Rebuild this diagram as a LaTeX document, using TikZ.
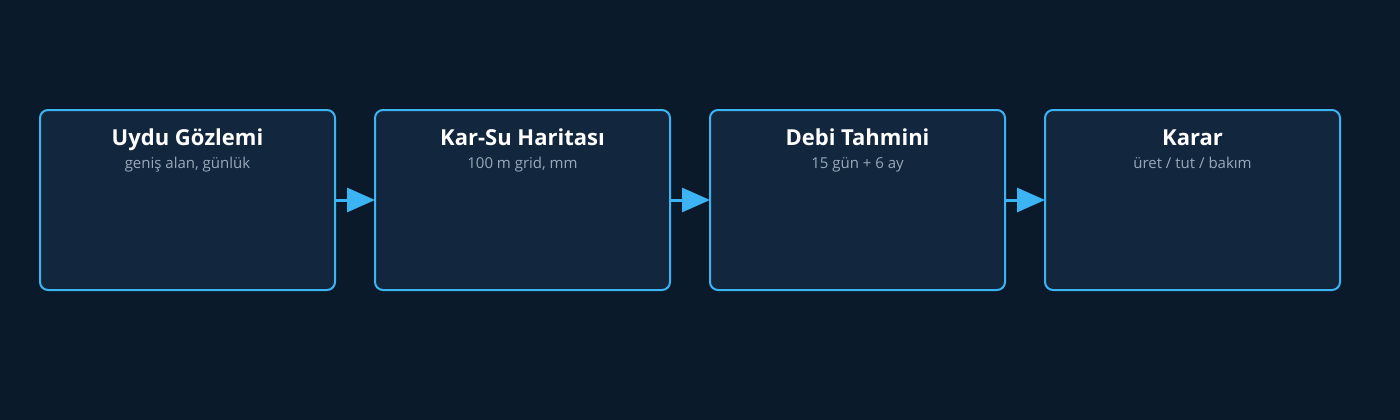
\documentclass[tikz,border=0pt]{standalone}
\usepackage{fontspec}
\setmainfont{Open Sans}
\usepackage{tikz}
\usetikzlibrary{arrows.meta,
                positioning}
\definecolor{bgdark}{HTML}{0B1A2B}
\definecolor{boxfill}{HTML}{12273D}
\definecolor{skyline}{HTML}{3CB4F4}
\definecolor{subgrey}{HTML}{9AA9BA}
\tikzstyle{stage} = [draw=skyline, line width=2pt, fill=boxfill, rounded corners=8pt,
                     outer sep=0pt, minimum width=295pt, minimum height=180pt]
\tikzstyle{title} = [text=white, anchor=base, font=\fontsize{22}{26}\selectfont\bfseries]
\tikzstyle{sub} = [text=subgrey, anchor=base, font=\fontsize{15}{18}\selectfont]
\tikzstyle{arrow} = [draw=skyline, line width=3pt, -{Triangle[length=28pt,width=24pt]}]
\newcommand{\stagetext}[3]{%
    \node[title] (#1t) at ([yshift=-35pt]#1.north) {#2};
    \node[sub] (#1s) at ([yshift=-58.5pt]#1.north) {#3};
}

\begin{document}
\begin{tikzpicture}[x=1pt,y=1pt]
    \fill[bgdark] (0,0) rectangle (1400,-420);
    \useasboundingbox (0,0) rectangle (1400,-420);

    \node[stage] (uydu) at (187.5,-200) {};
    \node[stage] (harita)[right=40pt of uydu] {};
    \node[stage] (debi)[right=40pt of harita] {};
    \node[stage] (karar)[right=40pt of debi] {};

    \stagetext{uydu}{Uydu Gözlemi}{geniş alan, günlük}
    \stagetext{harita}{Kar-Su Haritası}{100 m grid, mm}
    \stagetext{debi}{Debi Tahmini}{15 gün + 6 ay}
    \stagetext{karar}{Karar}{üret / tut / bakım}

    \draw [arrow] (uydu) -- (harita);
    \draw [arrow] (harita) -- (debi);
    \draw [arrow] (debi) -- (karar);
\end{tikzpicture}
\end{document}
